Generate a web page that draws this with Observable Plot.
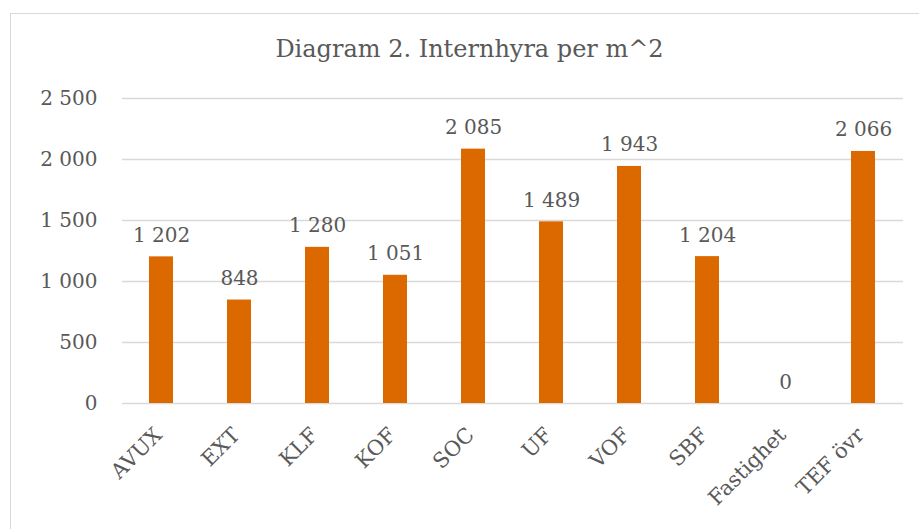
<!DOCTYPE html>
<html>
<head>
<meta charset="utf-8">
<script src="https://cdn.jsdelivr.net/npm/d3@7"></script>
<script src="https://cdn.jsdelivr.net/npm/@observablehq/plot@0.6"></script>
<style>
  html, body { margin: 0; padding: 0; background: #fff; }
  #wrap { position: relative; width: 919px; height: 529px; overflow: hidden; }
  #frame { position: absolute; left: 10px; top: 13px; width: 960px; height: 600px; border: 1.5px solid #d9d9d9; box-sizing: border-box; }
  #title { position: absolute; left: 10px; width: 919px; top: 35px; text-align: center; font-family: "DejaVu Serif", serif; font-size: 24px; color: #595959; white-space: nowrap; }
  #chart { position: absolute; left: 0; top: 0; width: 919px; height: 529px; }
</style>
</head>
<body>
<div id="wrap">
  <div id="frame"></div>
  <div id="title">Diagram 2. Internhyra per m^2</div>
  <div id="chart"></div>
</div>
<script>
const categories = ["AVUX", "EXT", "KLF", "KOF", "SOC", "UF", "VOF", "SBF", "Fastighet", "TEF övr"];
const values = [1202, 848, 1280, 1051, 2085, 1489, 1943, 1204, 0, 2066];
const yTicks = [0, 500, 1000, 1500, 2000, 2500];

const data = categories.map((c, i) => ({category: c, value: values[i]}));
const loc = d3.formatLocale({decimal: ",", thousands: " ", grouping: [3], currency: ["", ""]});
const fmt = loc.format(",d");
const font = "DejaVu Serif";
const textColor = "#595959";

const chart = Plot.plot({
  width: 919,
  height: 529,
  marginTop: 98,
  marginBottom: 126,
  marginLeft: 122,
  marginRight: 16,
  style: {fontFamily: font, fontSize: "20px", color: textColor, background: "transparent", overflow: "visible"},
  x: {domain: categories, paddingInner: 0.69, paddingOuter: 0.345, label: null},
  y: {domain: [0, 2500], label: null},
  marks: [
    Plot.gridY(yTicks, {stroke: "#d9d9d9", strokeOpacity: 1, strokeWidth: 1.5}),
    Plot.barY(data, {x: "category", y: "value", fill: "#dc6900"}),
    Plot.text(data, {x: "category", y: "value", text: d => fmt(d.value), dy: -15, fontSize: 20, fill: textColor, lineAnchor: "bottom"}),
    Plot.axisY({ticks: yTicks, tickSize: 0, tickPadding: 25, tickFormat: fmt, fontSize: 20, fill: textColor}),
    Plot.axisX({tickSize: 0, tickPadding: 22, tickRotate: -45, dy: 6, dx: -3, fontSize: 21, fill: textColor})
  ]
});
document.getElementById("chart").appendChild(chart);
</script>
</body>
</html>
